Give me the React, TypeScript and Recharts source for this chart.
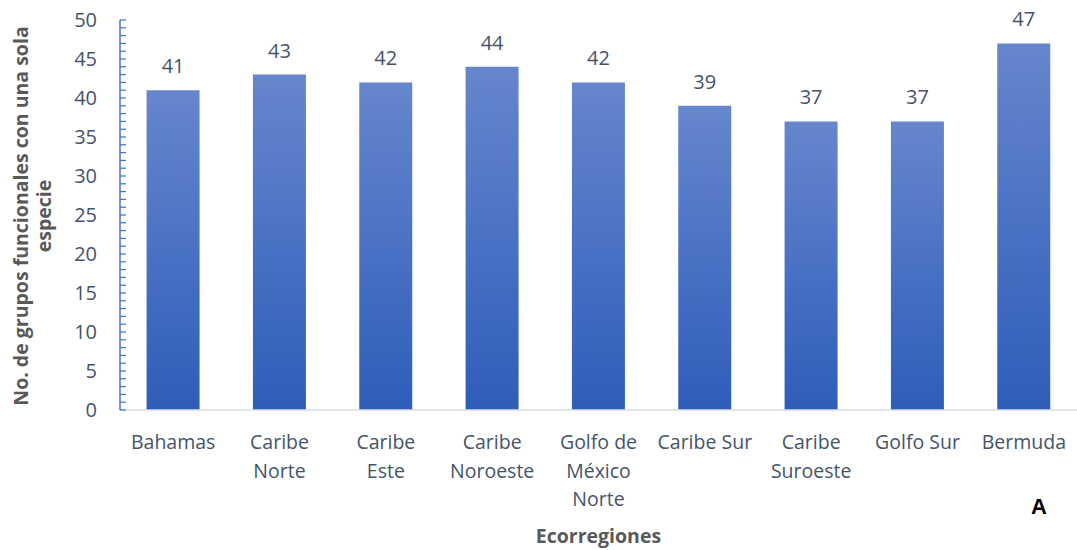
import React from 'react';
import { BarChart, Bar, XAxis, YAxis, LabelList } from 'recharts';

// Ecorregiones and number of functional groups with a single species
const categories = [
  'Bahamas',
  'Caribe\nNorte',
  'Caribe\nEste',
  'Caribe\nNoroeste',
  'Golfo de\nMéxico\nNorte',
  'Caribe Sur',
  'Caribe\nSuroeste',
  'Golfo Sur',
  'Bermuda',
];
const values = [41, 43, 42, 44, 42, 39, 37, 37, 47];
const yTicks = Array.from({ length: 51 }, (_, i) => i);

const data = categories.map((name, i) => ({ name, value: values[i] }));

const FONT = '"Open Sans", sans-serif';
const TEXT = '#44546a';
const AXIS_X = 120;

const YTick = (props: any) => {
  const { y, payload } = props;
  const v = payload.value;
  return (
    <g>
      <line x1={AXIS_X} x2={AXIS_X + 6} y1={y} y2={y} stroke="#4472c4" strokeWidth={1.2} />
      {v % 5 === 0 && (
        <text x={AXIS_X - 23} y={y} dy={7} textAnchor="end" fill={TEXT} fontSize={20} fontFamily={FONT}>
          {v}
        </text>
      )}
    </g>
  );
};

const XTick = (props: any) => {
  const { x, y, payload } = props;
  const lines = String(payload.value).split('\n');
  return (
    <text x={x} y={y} textAnchor="middle" fill={TEXT} fontSize={19.5} fontFamily={FONT}>
      {lines.map((l, i) => (
        <tspan key={i} x={x} dy={i === 0 ? 31 : 28.5}>
          {l}
        </tspan>
      ))}
    </text>
  );
};

export default function App() {
  return (
    <div style={{ position: 'absolute', left: 0, top: 0, width: 1077, height: 550, background: '#fff' }}>
      <BarChart
        width={1077}
        height={550}
        data={data}
        margin={{ top: 20, right: 0, bottom: 0, left: 0 }}
        barCategoryGap="25%"
      >
        <defs>
          <linearGradient id="barGrad" x1="0" y1="0" x2="0" y2="1">
            <stop offset="0%" stopColor="#6686cd" />
            <stop offset="100%" stopColor="#2e5db9" />
          </linearGradient>
        </defs>
        <XAxis
          dataKey="name"
          interval={0}
          height={140}
          axisLine={{ stroke: '#d9dde6', strokeWidth: 1.5 }}
          tickLine={false}
          tick={<XTick />}
          label={{
            value: 'Ecorregiones',
            position: 'insideBottom',
            offset: 7,
            fill: '#595959',
            fontSize: 19.5,
            fontWeight: 700,
            fontFamily: FONT,
          }}
        />
        <YAxis
          width={120}
          domain={[0, 50]}
          ticks={yTicks}
          interval={0}
          axisLine={{ stroke: '#4472c4', strokeWidth: 1.5 }}
          tickLine={false}
          tick={<YTick />}
        />
        <Bar dataKey="value" fill="url(#barGrad)" isAnimationActive={false}>
          <LabelList
            dataKey="value"
            position="top"
            offset={17}
            fill={TEXT}
            fontSize={20}
            fontFamily={FONT}
          />
        </Bar>
      </BarChart>
      <div
        style={{
          position: 'absolute',
          left: 31.5,
          top: 216,
          width: 440,
          transform: 'translate(-50%, -50%) rotate(-90deg)',
          textAlign: 'center',
          fontFamily: FONT,
          fontWeight: 700,
          fontSize: 19.5,
          lineHeight: '23px',
          color: '#595959',
        }}
      >
        No. de grupos funcionales con una sola
        <br />
        especie
      </div>
      <div
        style={{
          position: 'absolute',
          left: 1031,
          top: 494,
          fontFamily: 'Liberation Sans, Arial, sans-serif',
          fontWeight: 700,
          fontSize: 22,
          color: '#000',
        }}
      >
        A
      </div>
    </div>
  );
}
